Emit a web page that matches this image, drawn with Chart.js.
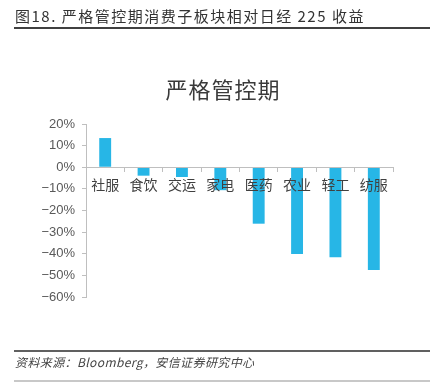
<!DOCTYPE html>
<html><head><meta charset="utf-8">
<script src="https://cdn.jsdelivr.net/npm/chart.js@4/dist/chart.umd.min.js"></script>
<style>
html,body{margin:0;padding:0;background:#fff;}
#wrap{position:relative;width:430px;height:382px;overflow:hidden;}
#c{position:absolute;left:0;top:0;}
.hdr{position:absolute;left:15px;top:5px;font:15px "Noto Sans CJK SC","Liberation Sans",sans-serif;color:#333;white-space:nowrap;letter-spacing:1.5px;}
.hline{position:absolute;left:14px;right:0;top:27px;height:2px;background:#404040;}
.fline{position:absolute;left:14px;right:0;top:350px;height:2px;background:#606060;}
.ftxt{position:absolute;left:15px;top:353px;font:italic 12px "Noto Sans CJK SC","Liberation Sans",sans-serif;color:#444;white-space:nowrap;letter-spacing:0.4px;}
.bline{position:absolute;left:14px;right:0;top:380px;height:2px;background:#c8c8c8;}
</style></head>
<body><div id="wrap">
<canvas id="c" width="430" height="382"></canvas>
<div class="hdr">图18. 严格管控期消费子板块相对日经 225 收益</div>
<div class="hline"></div>
<div class="fline"></div>
<div class="ftxt">资料来源：Bloomberg，安信证券研究中心</div>
<div class="bline"></div>
</div>
<script>
const categories = ['社服','食饮','交运','家电','医药','农业','轻工','纺服'];
const values = [13.5, -3.9, -4.5, -10.6, -26.1, -40.1, -41.6, -47.5];
const chartTitle = '严格管控期';
const yMin = -60, yMax = 20, yStep = 10;

const titlePlugin = {
  id: 'fixedTitle',
  afterDraw(chart) {
    const ctx = chart.ctx;
    ctx.save();
    ctx.font = '22px "Noto Sans CJK SC", sans-serif';
    ctx.fillStyle = '#3a3a3a';
    ctx.textAlign = 'center';
    ctx.textBaseline = 'middle';
    try { ctx.letterSpacing = '1px'; } catch (e) {}
    ctx.fillText(chartTitle, 223, 90);
    ctx.restore();
  }
};

new Chart(document.getElementById('c'), {
  type: 'bar',
  data: {
    labels: categories,
    datasets: [{
      data: values,
      backgroundColor: '#27B6E6',
      categoryPercentage: 1,
      barPercentage: 0.31
    }]
  },
  plugins: [titlePlugin],
  options: {
    responsive: false,
    animation: false,
    devicePixelRatio: 1,
    layout: { padding: { left: 0, right: 37, top: 124, bottom: 85 } },
    plugins: {
      legend: { display: false },
      tooltip: { enabled: false },
      title: { display: false }
    },
    scales: {
      x: {
        position: { y: 0 },
        grid: { display: true, drawOnChartArea: false, drawTicks: true, tickLength: 4, color: '#bfbfbf', offset: true, z: 1 },
        border: { display: true, color: '#bfbfbf', width: 1, z: 1 },
        ticks: { z: 1, color: '#404040', padding: 5, font: { family: '"Noto Sans CJK SC", sans-serif', size: 14 }, maxRotation: 0, autoSkip: false }
      },
      y: {
        min: yMin, max: yMax,
        afterFit: s => { s.width = 86; },
        grid: { display: true, drawOnChartArea: false, drawTicks: true, tickLength: 4, color: '#bfbfbf' },
        border: { display: true, color: '#bfbfbf', width: 1 },
        ticks: {
          stepSize: yStep,
          color: '#595959',
          padding: 7,
          font: { family: '"Liberation Sans", Arial, sans-serif', size: 13 },
          callback: v => (v < 0 ? '\u2212' + Math.abs(v) : v) + '%'
        }
      }
    }
  }
});
</script>
</body></html>
